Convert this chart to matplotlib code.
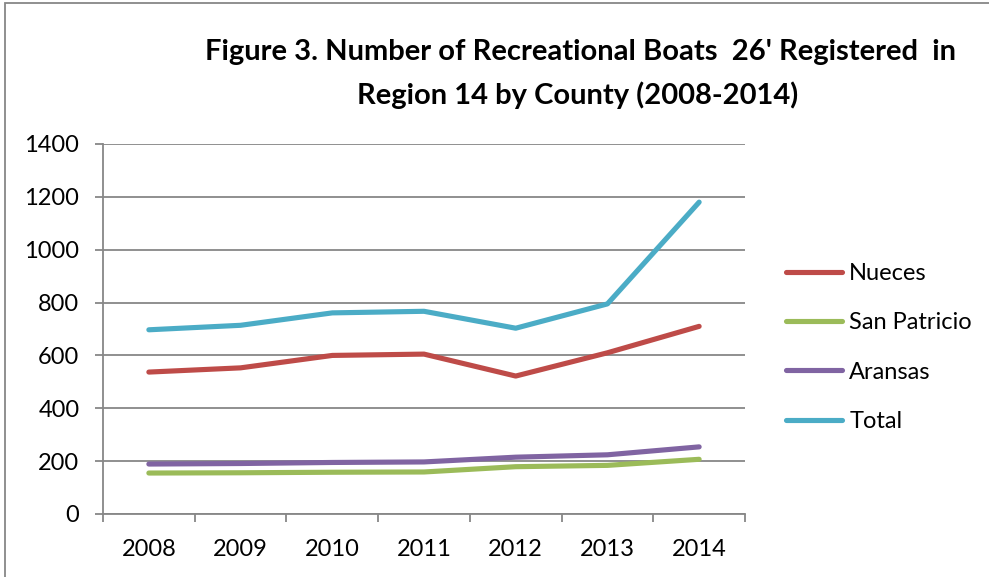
import numpy as np
import matplotlib
matplotlib.use('Agg')
import matplotlib.pyplot as plt
from matplotlib.patches import Rectangle

years = ['2008', '2009', '2010', '2011', '2012', '2013', '2014']
nueces = [537, 553, 600, 605, 522, 610, 710]
san_patricio = [155, 156, 158, 159, 179, 184, 207]
aransas = [189, 191, 195, 197, 215, 224, 254]
total = [697, 714, 761, 767, 703, 795, 1180]

series = [('Nueces', nueces, '#BE4B48'),
          ('San Patricio', san_patricio, '#9BBB59'),
          ('Aransas', aransas, '#8064A2'),
          ('Total', total, '#4BACC6')]

plt.rcParams['font.family'] = ['Lato', 'DejaVu Sans']

W, H = 989, 577
fig = plt.figure(figsize=(W / 100, H / 100), dpi=100)
ax = fig.add_axes([103 / W, 1 - 514 / H, 642 / W, 370 / H])

x = np.arange(len(years))
for name, vals, col in series:
    ax.plot(x, vals, color=col, lw=3.7, label=name, solid_capstyle='round')

ax.set_xlim(-0.5, len(years) - 0.5)
ax.set_ylim(0, 1400)
ax.set_yticks(np.arange(0, 1401, 200))
ax.set_xticks(x)
ax.set_xticklabels(years)
ax.set_xticks(np.arange(-0.5, len(years)), minor=True)
ax.tick_params(axis='x', which='major', length=0, pad=18, labelsize=17)
ax.tick_params(axis='x', which='minor', length=6, width=1.3, color='#878787', direction='out')
ax.tick_params(axis='y', length=6, width=1.3, color='#878787', labelsize=17, pad=11)
ax.grid(axis='y', color='#878787', lw=1.3)
ax.set_axisbelow(True)
for s in ['top', 'right']:
    ax.spines[s].set_visible(False)
for s in ['left', 'bottom']:
    ax.spines[s].set_color('#878787')
    ax.spines[s].set_linewidth(1.3)

ax.legend(loc='center left', bbox_to_anchor=(1.03, 0.45), frameon=False,
          fontsize=17, handlelength=2.4, handletextpad=0.3, labelspacing=1.2)

fig.text(0.587, 1 - 52 / H, "Figure 3. Number of Recreational Boats  26' Registered  in",
         ha='center', va='center', fontsize=21, fontweight='bold')
fig.text(0.584, 1 - 95 / H, "Region 14 by County (2008-2014)",
         ha='center', va='center', fontsize=21, fontweight='bold')

fig.patches.append(Rectangle((5 / W, -0.1), 1.2, 1 - 3 / H + 0.1, transform=fig.transFigure,
                             fill=False, edgecolor='#878787', lw=1.3))

fig.savefig('out.png', dpi=100)
